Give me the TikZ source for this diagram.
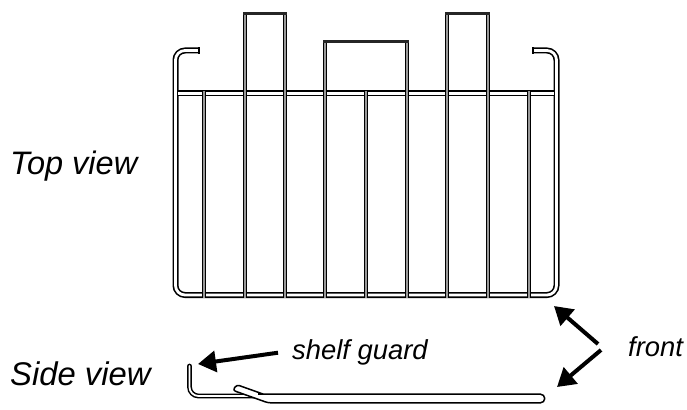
\documentclass[tikz,border=0pt]{standalone}
\usepackage{fontspec}
\setmainfont{Liberation Sans}
\usetikzlibrary{arrows.meta}
\tikzset{
  framewire/.style={draw=black,line width=1.6pt,double=white,double distance=2.8pt},
  vcore/.style={draw=black!40,line width=1.8pt},
  vedge/.style={draw=black,line width=1.4pt},
  sidewire/.style={draw=black,line width=1.5pt,double=white,double distance=1.8pt,line cap=round},
  sideoutline/.style={draw=black,fill=white,line width=1.5pt},
  topbar/.style={draw=black!85,line width=3.2pt},
  lbl/.style={anchor=base west,inner sep=0pt},
  bigarrow/.style={draw=black,line width=4pt,-{Triangle[length=18pt,width=21pt]}}
}
\begin{document}
\begin{tikzpicture}[x=1pt,y=-1pt]
\useasboundingbox[fill=white] (0,0) rectangle (687,409);
% top view: frame
\draw[framewire,rounded corners=9.5pt] (199,50.5) -- (175.5,50.5) -- (175.5,295) -- (556.5,295) -- (556.5,50.5) -- (533,50.5);
\draw[black,line width=1.3pt] (199,47.4) -- (199,53.6);
\draw[black,line width=1.3pt] (533,47.4) -- (533,53.6);
\draw[framewire] (178,93.5) -- (553.5,93.5);
% top view: verticals
\foreach \x/\t in {204/91,245/13.5,285/13.5,325/41.5,366/91,407/41.5,447/13.5,488/13.5,529/91}{
  \draw[vcore] (\x,\t) -- (\x,298);
  \draw[vedge] (\x-1.5,\t) -- (\x-1.5,298);
  \draw[vedge] (\x+1.5,\t) -- (\x+1.5,298);
}
\foreach \a/\b/\t in {243/287/13.5,323/409/41.5,445/490/13.5}{\draw[topbar] (\a,\t) -- (\b,\t);}
% side view
\draw[sidewire,rounded corners=9pt] (189.5,366) -- (189.5,396) -- (262,396);
\path[sideoutline,rounded corners=2.7pt] (263.5,394.2) -- (236.8,384.7) -- (232.8,390.3) -- (268,402.8) [rounded corners=4.2pt] -- (544.7,402.8) -- (544.7,394.2) -- (258,394.2);
% labels
\node[lbl,font=\itshape\fontsize{32.5}{32.5}\selectfont] (top) at (10,174) {Top view};
\node[lbl,font=\itshape\fontsize{32.8}{32.8}\selectfont] (side) at (10,385) {Side view};
\node[lbl,font=\itshape\fontsize{27.4}{27.4}\selectfont] (guard) at (292,359) {shelf guard};
\node[lbl,font=\itshape\fontsize{27.4}{27.4}\selectfont] (front) at (628,356) {front};
% arrows
\coordinate (guardtip) at (198,364);
\coordinate (guardtail) at (278,352.7);
\coordinate (fronttiptop) at (554,306);
\coordinate (fronttailtop) at (598,344);
\coordinate (fronttipbot) at (557,387);
\coordinate (fronttailbot) at (601,350);
\draw[bigarrow] (guardtail) -- (guardtip);
\draw[bigarrow] (fronttailtop) -- (fronttiptop);
\draw[bigarrow] (fronttailbot) -- (fronttipbot);
\end{tikzpicture}
\end{document}
